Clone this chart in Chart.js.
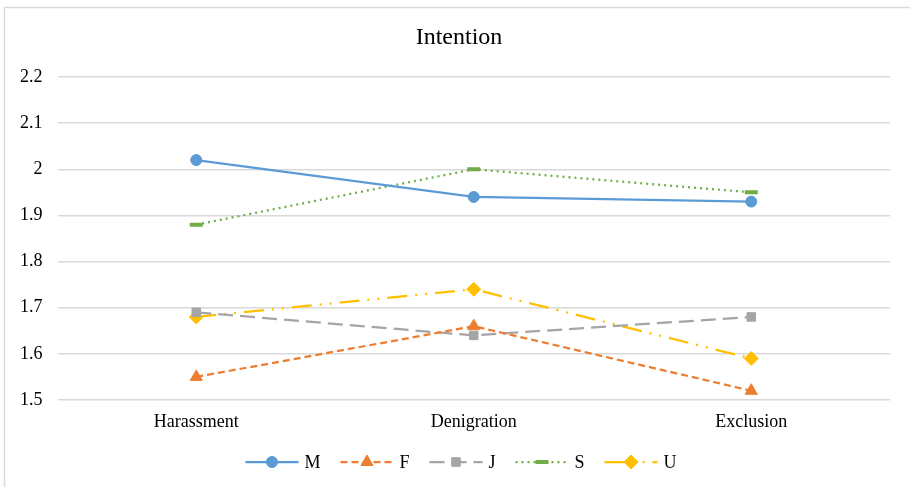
<!DOCTYPE html>
<html>
<head>
<meta charset="utf-8">
<script src="https://cdn.jsdelivr.net/npm/chart.js@4/dist/chart.umd.min.js"></script>
<style>
  html, body { margin: 0; padding: 0; background: #fff; }
  #wrap { width: 910px; height: 487px; }
</style>
</head>
<body>
<div id="wrap"><canvas id="c" width="910" height="487"></canvas></div>
<script>
const categories = ['Harassment', 'Denigration', 'Exclusion'];
const seriesNames = ['M', 'F', 'J', 'S', 'U'];
const valuesM = [2.02, 1.94, 1.93];
const valuesF = [1.55, 1.66, 1.52];
const valuesJ = [1.69, 1.64, 1.68];
const valuesS = [1.88, 2.00, 1.95];
const valuesU = [1.68, 1.74, 1.59];
const yTicks = [1.5, 1.6, 1.7, 1.8, 1.9, 2, 2.1, 2.2];
const chartTitle = 'Intention';

const FONT = '"Liberation Serif", "Times New Roman", serif';

const styles = [
  { color: '#5b9bd5', dash: [], point: 'circle', radius: 5.5, pbw: 1 },
  { color: '#ed7d31', dash: [7, 4], point: 'triangle', radius: 7, pbw: 1 },
  { color: '#a5a5a5', dash: [15, 7], point: 'rect', radius: 6, pbw: 1 },
  { color: '#70ad47', dash: [2, 4], point: 'line', radius: 6.5, pbw: 4 },
  { color: '#ffc000', dash: [20, 8, 2, 8, 2, 8], point: 'rectRot', radius: 7, pbw: 1 }
];
const seriesValues = [valuesM, valuesF, valuesJ, valuesS, valuesU];

const datasets = seriesNames.map((name, i) => ({
  label: name,
  data: seriesValues[i],
  borderColor: styles[i].color,
  backgroundColor: styles[i].color,
  borderWidth: 2.25,
  borderDash: styles[i].dash,
  pointStyle: styles[i].point,
  pointRadius: styles[i].radius,
  pointHoverRadius: styles[i].radius,
  pointBorderWidth: styles[i].pbw,
  pointBorderColor: styles[i].color,
  pointBackgroundColor: styles[i].color,
  tension: 0
}));

// outer frame and title of the chart
const framePlugin = {
  id: 'frame',
  beforeDraw(chart) {
    const ctx = chart.ctx;
    ctx.save();
    ctx.strokeStyle = '#d9d9d9';
    ctx.lineWidth = 1.5;
    ctx.beginPath();
    ctx.moveTo(4.5, 490);
    ctx.lineTo(4.5, 7.5);
    ctx.lineTo(912, 7.5);
    ctx.stroke();
    ctx.fillStyle = '#000';
    ctx.font = '24px ' + FONT;
    ctx.textAlign = 'center';
    ctx.textBaseline = 'middle';
    ctx.fillText(chartTitle, 459, 38);
    ctx.restore();
  }
};

// legend with line sample and marker, centred below the plot
const legendPlugin = {
  id: 'lineLegend',
  afterDraw(chart) {
    const ctx = chart.ctx;
    const y = 462;
    const lineLen = 53, textGap = 6, itemGap = 20;
    ctx.save();
    ctx.font = '18px ' + FONT;
    const widths = chart.data.datasets.map(ds => lineLen + textGap + ctx.measureText(ds.label).width);
    const total = widths.reduce((a, b) => a + b, 0) + itemGap * (widths.length - 1);
    let x = 461 - total / 2;
    chart.data.datasets.forEach((ds, i) => {
      ctx.save();
      ctx.strokeStyle = ds.borderColor;
      ctx.lineWidth = 2.25;
      ctx.setLineDash(ds.borderDash);
      ctx.beginPath();
      ctx.moveTo(x, y);
      ctx.lineTo(x + lineLen, y);
      ctx.stroke();
      ctx.restore();
      ctx.save();
      ctx.fillStyle = ds.pointBackgroundColor;
      ctx.strokeStyle = ds.pointBorderColor;
      ctx.lineWidth = ds.pointBorderWidth;
      Chart.helpers.drawPoint(ctx, {
        pointStyle: ds.pointStyle,
        radius: ds.pointRadius,
        borderWidth: ds.pointBorderWidth,
        rotation: 0
      }, x + lineLen / 2, y);
      ctx.restore();
      ctx.fillStyle = '#000';
      ctx.textBaseline = 'middle';
      ctx.textAlign = 'left';
      ctx.fillText(ds.label, x + lineLen + textGap, y + 1);
      x += widths[i] + itemGap;
    });
    ctx.restore();
  }
};

new Chart(document.getElementById('c'), {
  type: 'line',
  data: { labels: categories, datasets },
  options: {
    responsive: false,
    animation: false,
    events: [],
    layout: { padding: { left: 12, right: 20, top: 77, bottom: 42 } },
    plugins: {
      legend: { display: false },
      tooltip: { enabled: false },
      title: { display: false }
    },
    scales: {
      x: {
        offset: true,
        grid: { display: false, drawTicks: false },
        border: { display: false },
        ticks: {
          color: '#000',
          padding: 11,
          font: { family: FONT, size: 18 }
        },
        afterFit(scale) { scale.height = 45; }
      },
      y: {
        min: 1.5,
        max: 2.2,
        afterBuildTicks(scale) { scale.ticks = yTicks.map(v => ({ value: v })); },
        grid: { color: '#d9d9d9', lineWidth: 1.5, drawTicks: false },
        border: { display: false },
        ticks: {
          color: '#000',
          padding: 15,
          font: { family: FONT, size: 18 },
          callback: v => String(v)
        },
        afterFit(scale) { scale.width = 45.5; }
      }
    }
  },
  plugins: [framePlugin, legendPlugin]
});
</script>
</body>
</html>
